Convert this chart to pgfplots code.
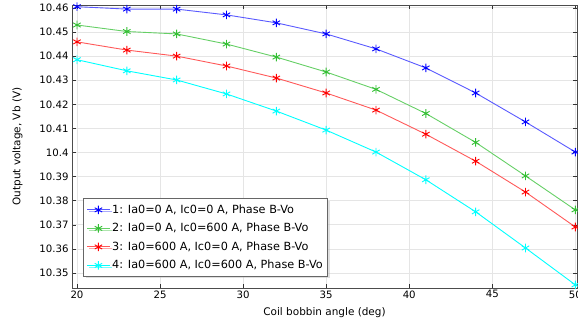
\documentclass[border=0pt]{standalone}
\usepackage{fontspec}
\setmainfont{DejaVu Sans}
\usepackage{pgfplots}
\pgfplotsset{compat=1.18}
\usetikzlibrary{calc,shadows}
\definecolor{cb}{RGB}{0,0,255}
\definecolor{cg}{RGB}{51,191,51}
\definecolor{cr}{RGB}{255,0,0}
\definecolor{cc}{RGB}{0,255,255}
\begin{document}
\begin{tikzpicture}
\begin{axis}[
  scale only axis, width=505bp, height=283bp,
  xmin=19.7, xmax=50.1, ymin=10.3438, ymax=10.4612,
  xtick={20,25,...,50},
  ytick={10.35,10.36,...,10.461},
  yticklabel style={/pgf/number format/.cd,fixed,precision=2},
  /pgf/number format/assume math mode=true,
  grid=major, major grid style={draw=black!10, line width=0.8pt},
  axis line style={draw=black!70, line width=0.8pt},
  tick style={draw=black!80, line width=0.6pt},
  tick align=inside, major tick length=4pt,
  ticklabel style={font=\fontsize{10.2pt}{12pt}\selectfont},
  xticklabel style={yshift=1pt},
  xlabel={Coil bobbin angle (deg)}, ylabel={Output voltage, Vb (V)},
  label style={font=\fontsize{10.5pt}{12pt}\selectfont},
  xlabel style={yshift=-3pt},
  ylabel style={yshift=10pt},
  legend style={at={(0.022,0.039)}, anchor=south west, draw=black!60, line width=1.1pt, fill=white, drop shadow={shadow xshift=2pt, shadow yshift=-2pt, fill=black!25}, font=\fontsize{11.3pt}{13pt}\selectfont, row sep=4.5pt, inner xsep=3pt, inner ysep=4pt,
    legend image code/.code={\draw[mark repeat=2,mark phase=2] plot coordinates {(0cm,0cm)(0.4cm,0cm)(0.8cm,0cm)};}},
  legend cell align=left,
  every axis plot/.append style={line width=0.9pt, mark=asterisk, mark size=4.3pt, mark options={line width=1.7pt, draw opacity=1}},
]
\addplot[color=cb!65, mark options={draw=cb}] coordinates {(20,10.4605)(23,10.4595)(26,10.4595)(29,10.4571)(32,10.4538)(35,10.4492)(38,10.4430)(41,10.4351)(44,10.4247)(47,10.4127)(50,10.4002)};
\addlegendentry{1: Ia0=0 A, Ic0=0 A, Phase B-Vo}
\addplot[color=cg!75, mark options={draw=cg}] coordinates {(20,10.4529)(23,10.4502)(26,10.4492)(29,10.4450)(32,10.4396)(35,10.4334)(38,10.4262)(41,10.4162)(44,10.4042)(47,10.3903)(50,10.3762)};
\addlegendentry{2: Ia0=0 A, Ic0=600 A, Phase B-Vo}
\addplot[color=cr!65, mark options={draw=cr}] coordinates {(20,10.4459)(23,10.4425)(26,10.4400)(29,10.4359)(32,10.4309)(35,10.4247)(38,10.4176)(41,10.4076)(44,10.3964)(47,10.3836)(50,10.3691)};
\addlegendentry{3: Ia0=600 A, Ic0=0 A, Phase B-Vo}
\addplot[color=cc, mark options={draw=cc}] coordinates {(20,10.4385)(23,10.4339)(26,10.4301)(29,10.4243)(32,10.4172)(35,10.4093)(38,10.4002)(41,10.3887)(44,10.3754)(47,10.3604)(50,10.3451)};
\addlegendentry{4: Ia0=600 A, Ic0=600 A, Phase B-Vo}
\end{axis}
\pgfresetboundingbox
\path[use as bounding box] ($(current axis.south west)+(-72bp,-36bp)$) rectangle ($(current axis.north east)+(1bp,5bp)$);
\end{tikzpicture}
\end{document}
